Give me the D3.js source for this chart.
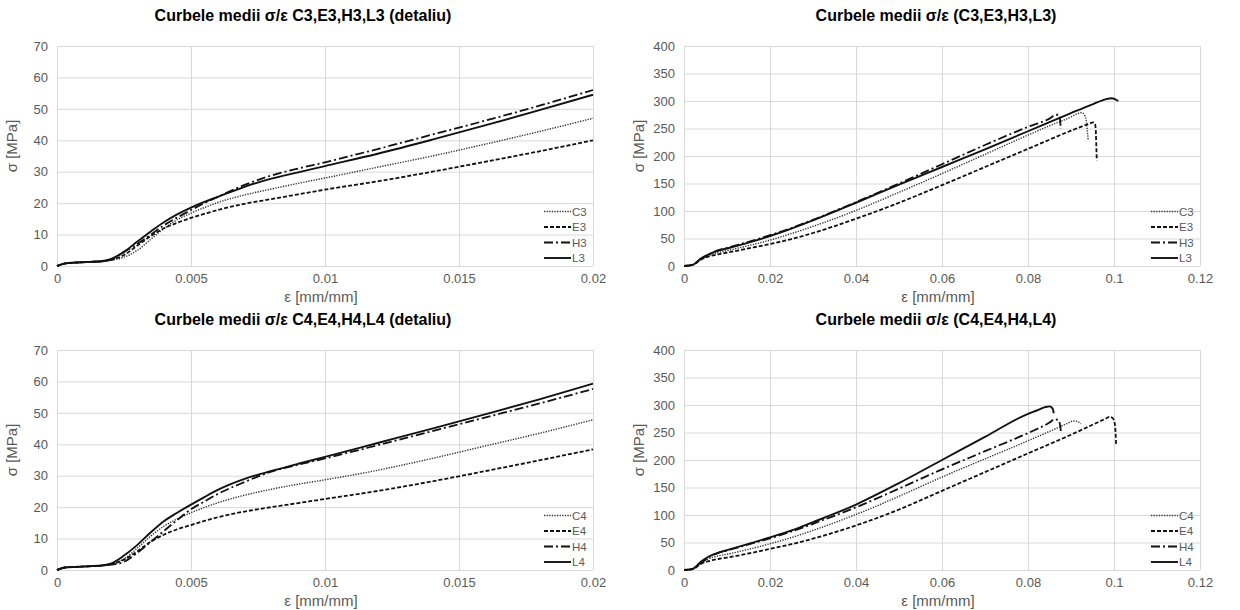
<!DOCTYPE html>
<html>
<head>
<meta charset="utf-8">
<script src="https://cdn.jsdelivr.net/npm/d3@7"></script>
<style>
  body { margin: 0; background: #fff; }
  svg { display: block; }
</style>
</head>
<body>
<svg id="chart" width="1240" height="610"></svg>
<script>
// [strain mm/mm, stress MPa]

// detail, first 0.02 of strain
const c3Detail = [[0,0],[0.0003,0.8],[0.0007,1.1],[0.0012,1.3],[0.0017,1.5],[0.002,1.8],[0.0025,2.8],[0.003,5],[0.0035,8.5],[0.004,12],[0.0045,14.8],[0.005,16.8],[0.0055,18.6],[0.006,20.2],[0.007,22.6],[0.008,24.5],[0.009,26.3],[0.01,28],[0.012,31.5],[0.014,35],[0.016,38.8],[0.018,42.8],[0.02,47]];
const e3Detail = [[0,0],[0.0003,0.8],[0.0007,1.1],[0.0012,1.3],[0.0017,1.5],[0.002,1.9],[0.0025,3.5],[0.003,6.5],[0.0035,9.5],[0.004,12],[0.0045,13.8],[0.005,15.3],[0.0055,16.6],[0.006,17.8],[0.007,19.8],[0.008,21.3],[0.009,22.8],[0.01,24.3],[0.012,27],[0.014,30],[0.016,33.2],[0.018,36.5],[0.02,40]];
const h3Detail = [[0,0],[0.0003,0.8],[0.0007,1.1],[0.0012,1.3],[0.0017,1.5],[0.002,2],[0.0025,4.5],[0.003,7],[0.0035,10],[0.004,13],[0.0045,15.5],[0.005,17.8],[0.0055,20],[0.006,22],[0.007,25.8],[0.008,28.8],[0.009,31],[0.01,33],[0.012,37.3],[0.014,41.8],[0.016,46.3],[0.018,51],[0.02,56]];
const l3Detail = [[0,0],[0.0003,0.8],[0.0007,1.1],[0.0012,1.3],[0.0017,1.6],[0.002,2.2],[0.0025,4.5],[0.003,7.8],[0.0035,11],[0.004,14],[0.0045,16.5],[0.005,18.6],[0.0055,20.4],[0.006,22],[0.007,25.2],[0.008,27.8],[0.009,29.8],[0.01,31.8],[0.012,35.8],[0.014,40.2],[0.016,44.8],[0.018,49.6],[0.02,54.5]];

const c4Detail = [[0,0],[0.0003,0.8],[0.0007,1],[0.0012,1.2],[0.0017,1.4],[0.002,1.8],[0.0025,3.5],[0.003,7],[0.0035,10.8],[0.004,14],[0.0045,16.3],[0.005,18.2],[0.0055,19.9],[0.006,21.4],[0.007,23.8],[0.008,25.7],[0.009,27.3],[0.01,28.7],[0.012,31.8],[0.014,35.5],[0.016,39.5],[0.018,43.5],[0.02,47.8]];
const e4Detail = [[0,0],[0.0003,0.8],[0.0007,1],[0.0012,1.2],[0.0017,1.4],[0.002,1.8],[0.0025,3.3],[0.003,6],[0.0035,9],[0.004,11.3],[0.0045,13],[0.005,14.3],[0.0055,15.6],[0.006,16.8],[0.007,18.6],[0.008,20],[0.009,21.3],[0.01,22.6],[0.012,25.2],[0.014,28.2],[0.016,31.5],[0.018,34.9],[0.02,38.4]];
const h4Detail = [[0,0],[0.0003,0.8],[0.0007,1],[0.0012,1.2],[0.0017,1.4],[0.002,1.7],[0.0025,2.6],[0.003,5.5],[0.0035,9],[0.004,12.5],[0.0045,16],[0.005,19.3],[0.0055,21.8],[0.006,24.2],[0.007,28],[0.008,31.3],[0.009,33.5],[0.01,35.5],[0.012,39.8],[0.014,44.2],[0.016,48.6],[0.018,53],[0.02,57.6]];
const l4Detail = [[0,0],[0.0003,0.8],[0.0007,1],[0.0012,1.2],[0.0017,1.5],[0.002,2],[0.0025,4.6],[0.003,8],[0.0035,12],[0.004,15.6],[0.0045,18.3],[0.005,20.8],[0.0055,23.2],[0.006,25.5],[0.007,29],[0.008,31.5],[0.009,33.8],[0.01,36],[0.012,40.5],[0.014,45],[0.016,49.6],[0.018,54.3],[0.02,59.3]];

// full curves up to failure
const c3Full = [[0,0],[0.002,1.8],[0.004,12],[0.006,20],[0.008,24.5],[0.01,28],[0.015,37],[0.02,47],[0.025,59],[0.03,72],[0.04,101],[0.05,134],[0.06,168],[0.07,203],[0.08,238],[0.085,255],[0.09,271],[0.0915,277],[0.0925,279],[0.093,276],[0.0935,266],[0.0938,245],[0.094,230]];
const e3Full = [[0,0],[0.002,1.9],[0.004,12],[0.006,17.8],[0.008,21.3],[0.01,24.3],[0.015,32],[0.02,40],[0.025,49],[0.03,60],[0.04,86],[0.05,115],[0.06,147],[0.07,180],[0.08,213],[0.09,246],[0.094,258],[0.0952,261],[0.0956,258],[0.0958,240],[0.0959,215],[0.096,192]];
const h3Full = [[0,0],[0.002,2],[0.004,13],[0.006,22],[0.008,28.8],[0.01,33],[0.015,44],[0.02,56],[0.025,69],[0.03,84],[0.04,116],[0.05,150],[0.06,185],[0.07,220],[0.08,253],[0.085,268],[0.0865,275],[0.0872,275],[0.0875,262],[0.0876,249]];
const l3Full = [[0,0],[0.002,2.2],[0.004,14],[0.006,22],[0.008,27.8],[0.01,31.8],[0.015,42.5],[0.02,54.5],[0.025,68],[0.03,83],[0.04,115],[0.05,148],[0.06,180],[0.07,212],[0.08,245],[0.09,278],[0.095,294],[0.098,303],[0.0995,305],[0.1003,303],[0.101,300]];

const c4Full = [[0,0],[0.002,1.8],[0.004,14],[0.006,21.4],[0.008,25.7],[0.01,28.7],[0.015,37.6],[0.02,47.8],[0.025,59],[0.03,72],[0.04,101],[0.05,134],[0.06,169],[0.07,202],[0.08,235],[0.085,252],[0.089,266],[0.0905,271],[0.0915,270],[0.0923,266]];
const e4Full = [[0,0],[0.002,1.8],[0.004,11.3],[0.006,16.8],[0.008,20],[0.01,22.6],[0.015,30],[0.02,38.4],[0.025,47],[0.03,57],[0.04,81],[0.05,110],[0.06,144],[0.07,178],[0.08,212],[0.09,246],[0.095,264],[0.098,275],[0.099,278.5],[0.0997,276],[0.1002,265],[0.1004,245],[0.1005,226]];
const h4Full = [[0,0],[0.002,1.7],[0.004,12.5],[0.006,24.2],[0.008,31.3],[0.01,35.5],[0.015,46.5],[0.02,57.6],[0.025,70],[0.03,84],[0.04,114],[0.05,148],[0.06,183],[0.07,216],[0.08,249],[0.085,268],[0.0862,274],[0.087,273],[0.0875,262],[0.0877,247]];
const l4Full = [[0,0],[0.002,2],[0.004,15.6],[0.006,25.5],[0.008,31.5],[0.01,36],[0.015,47.5],[0.02,59.3],[0.025,72],[0.03,87],[0.04,119],[0.05,158],[0.06,200],[0.07,242],[0.08,284],[0.082,290],[0.084,296],[0.085,297.5],[0.0857,294],[0.086,285]];

const names3 = ['C3', 'E3', 'H3', 'L3'];
const names4 = ['C4', 'E4', 'H4', 'L4'];

const detailTicksX = [0, 0.005, 0.01, 0.015, 0.02];
const detailTicksY = [0, 10, 20, 30, 40, 50, 60, 70];
const fullTicksX = [0, 0.02, 0.04, 0.06, 0.08, 0.1, 0.12];
const fullTicksY = [0, 50, 100, 150, 200, 250, 300, 350, 400];

const titles = [
  'Curbele medii σ/ε C3,E3,H3,L3 (detaliu)',
  'Curbele medii σ/ε (C3,E3,H3,L3)',
  'Curbele medii σ/ε C4,E4,H4,L4 (detaliu)',
  'Curbele medii σ/ε (C4,E4,H4,L4)'
];
const xTitle = 'ε [mm/mm]';
const yTitle = 'σ [MPa]';

// line style by specimen letter
const styles = {
  C: { dash: '1.3,1.3', width: 1.4, color: '#333' },
  E: { dash: '4,2', width: 1.8, color: '#111' },
  H: { dash: '9,3,2,3', width: 1.8, color: '#111' },
  L: { dash: null, width: 1.9, color: '#111' }
};

const font = '"Liberation Sans", Arial, sans-serif';

const panels = [
  { title: titles[0], names: names3, data: [c3Detail, e3Detail, h3Detail, l3Detail],
    xTicks: detailTicksX, yTicks: detailTicksY, left: 57, right: 593, top: 46, bottom: 266, titleShift: -22 },
  { title: titles[1], names: names3, data: [c3Full, e3Full, h3Full, l3Full],
    xTicks: fullTicksX, yTicks: fullTicksY, left: 684, right: 1200, top: 46, bottom: 266, titleShift: -6 },
  { title: titles[2], names: names4, data: [c4Detail, e4Detail, h4Detail, l4Detail],
    xTicks: detailTicksX, yTicks: detailTicksY, left: 57, right: 593, top: 350, bottom: 570, titleShift: -22 },
  { title: titles[3], names: names4, data: [c4Full, e4Full, h4Full, l4Full],
    xTicks: fullTicksX, yTicks: fullTicksY, left: 684, right: 1200, top: 350, bottom: 570, titleShift: -6 }
];

const svg = d3.select('#chart');

function fmt(d) {
  return d === 0 ? '0' : String(+d.toFixed(3));
}

function drawPanel(p) {
  const g = svg.append('g');
  const x = d3.scaleLinear().domain(d3.extent(p.xTicks)).range([p.left, p.right]);
  const y = d3.scaleLinear().domain(d3.extent(p.yTicks)).range([p.bottom, p.top]);

  // axes with gridlines
  const xa = g.append('g')
    .attr('transform', `translate(0,${p.bottom})`)
    .call(d3.axisBottom(x).tickValues(p.xTicks).tickFormat(fmt)
      .tickSize(-(p.bottom - p.top)).tickPadding(8));
  const ya = g.append('g')
    .attr('transform', `translate(${p.left},0)`)
    .call(d3.axisLeft(y).tickValues(p.yTicks).tickFormat(fmt)
      .tickSize(-(p.right - p.left)).tickPadding(9));

  [xa, ya].forEach(a => {
    a.select('.domain').remove();
    a.selectAll('.tick line').attr('stroke', '#d9d9d9').attr('stroke-width', 1);
    a.selectAll('.tick text')
      .attr('fill', '#595959')
      .style('font-family', font)
      .style('font-size', '13px');
  });

  // curves
  const line = d3.line()
    .x(d => x(d[0]))
    .y(d => y(d[1]))
    .curve(d3.curveMonotoneX);

  p.data.forEach((vals, i) => {
    const s = styles[p.names[i][0]];
    g.append('path')
      .datum(vals)
      .attr('d', line)
      .attr('fill', 'none')
      .attr('stroke', s.color)
      .attr('stroke-width', s.width)
      .attr('stroke-dasharray', s.dash)
      .attr('stroke-linejoin', 'round');
  });

  // legend, bottom right inside plot
  const lg = g.append('g');
  p.names.forEach((n, i) => {
    const s = styles[n[0]];
    const ly = p.bottom - 8 - (p.names.length - 1 - i) * 15.5;
    lg.append('line')
      .attr('x1', p.right - 49).attr('x2', p.right - 22)
      .attr('y1', ly).attr('y2', ly)
      .attr('stroke', s.color)
      .attr('stroke-width', s.width)
      .attr('stroke-dasharray', s.dash);
    lg.append('text')
      .attr('x', p.right - 21).attr('y', ly + 4)
      .attr('fill', '#595959')
      .style('font-family', font)
      .style('font-size', '11.5px')
      .text(n);
  });

  // titles
  g.append('text')
    .attr('x', (p.left + p.right) / 2 + p.titleShift).attr('y', p.top - 25)
    .attr('text-anchor', 'middle')
    .style('font-family', font)
    .style('font-size', '16px')
    .style('font-weight', 'bold')
    .attr('fill', '#000')
    .text(p.title);

  g.append('text')
    .attr('x', (p.left + p.right) / 2 - 4).attr('y', p.bottom + 36)
    .attr('text-anchor', 'middle')
    .attr('fill', '#595959')
    .style('font-family', font)
    .style('font-size', '15px')
    .text(xTitle);

  g.append('text')
    .attr('transform', `translate(${p.left - 40},${p.top + 100}) rotate(-90)`)
    .attr('text-anchor', 'middle')
    .attr('fill', '#595959')
    .style('font-family', font)
    .style('font-size', '15px')
    .text(yTitle);
}

panels.forEach(drawPanel);
</script>
</body>
</html>
